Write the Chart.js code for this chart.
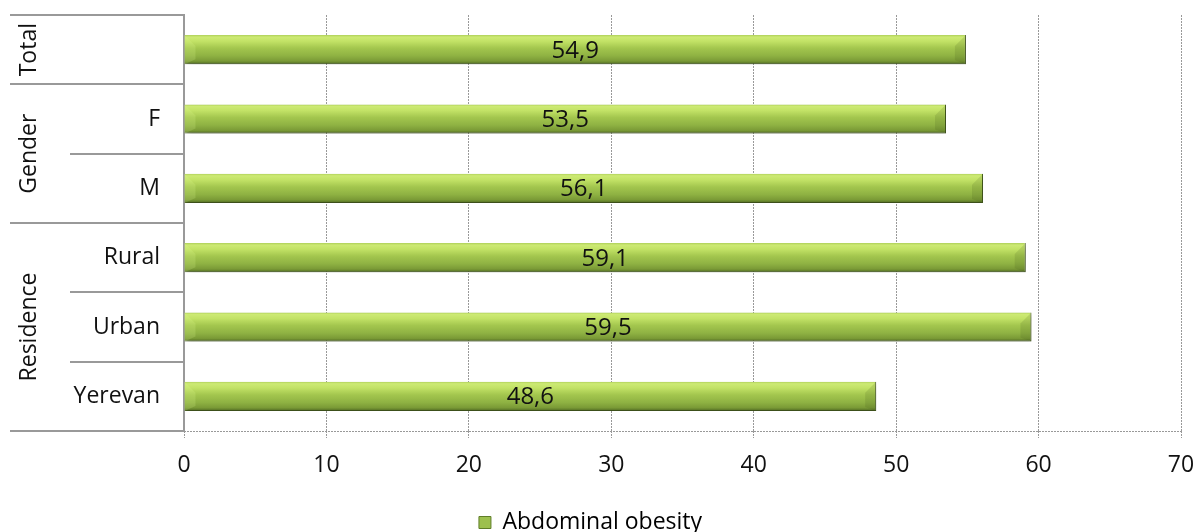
<!DOCTYPE html>
<html>
<head>
<meta charset="utf-8">
<script src="https://cdn.jsdelivr.net/npm/chart.js@4.4.1/dist/chart.umd.min.js"></script>
<style>
  html, body { margin: 0; padding: 0; background: #fff; }
</style>
</head>
<body>
<canvas id="myChart" width="1196" height="532"></canvas>
<script>
// data
const categories = ['Total', 'F', 'M', 'Rural', 'Urban', 'Yerevan'];
const tickLabels = ['', 'F', 'M', 'Rural', 'Urban', 'Yerevan'];
const values = [54.9, 53.5, 56.1, 59.1, 59.5, 48.6];
const groupNames = ['Total', 'Gender', 'Residence'];
const groupStart = [0, 1, 3];
const groupEnd = [0, 2, 5];
const seriesName = 'Abdominal obesity';
const xTicks = [0, 10, 20, 30, 40, 50, 60, 70];

const FONT = '"Open Sans", sans-serif';
const TEXT = '#111';
const LINE = '#999';

const barFill = (c) => {
  const chart = c.chart;
  const y = chart.scales && chart.scales.y;
  if (c.type !== 'data' || !y) return '#9bbb59';
  const cy = y.getPixelForValue(c.dataIndex);
  if (!isFinite(cy)) return '#9bbb59';
  const g = chart.ctx.createLinearGradient(0, cy - 15, 0, cy + 15);
  g.addColorStop(0, '#a9cb55');
  g.addColorStop(0.08, '#cdea74');
  g.addColorStop(0.22, '#c2e266');
  g.addColorStop(0.45, '#a3c64e');
  g.addColorStop(0.7, '#8fb243');
  g.addColorStop(0.88, '#7a9a36');
  g.addColorStop(1, '#4a6320');
  return g;
};

const zeroPad = (s) => { s.paddingTop = 0; s.paddingBottom = 0; s.paddingLeft = 0; s.paddingRight = 0; };

const extras = {
  id: 'extras',
  afterLayout(chart) {
    // push legend down to sit near the bottom edge
    chart.legend.top += 12;
    chart.legend.bottom += 12;
  },
  beforeDatasetsDraw(chart) {
    const ctx = chart.ctx;
    ctx.save();
    ctx.shadowColor = 'rgba(0,0,0,0.25)';
    ctx.shadowBlur = 5;
    ctx.shadowOffsetX = 2;
    ctx.shadowOffsetY = 3;
  },
  afterDatasetsDraw(chart) {
    const ctx = chart.ctx;
    ctx.restore();
    const meta = chart.getDatasetMeta(0);
    ctx.save();
    meta.data.forEach((bar, i) => {
      const top = bar.y - bar.height / 2, bot = bar.y + bar.height / 2;
      const b = 11;
      // left bevel (lighter)
      ctx.fillStyle = 'rgba(230,255,150,0.18)';
      ctx.beginPath();
      ctx.moveTo(bar.base, top); ctx.lineTo(bar.base + b, top + b);
      ctx.lineTo(bar.base + b, bot - 5); ctx.lineTo(bar.base, bot);
      ctx.closePath(); ctx.fill();
      // right bevel (darker)
      ctx.fillStyle = 'rgba(60,80,20,0.14)';
      ctx.beginPath();
      ctx.moveTo(bar.x, top); ctx.lineTo(bar.x - b, top + b);
      ctx.lineTo(bar.x - b, bot - 4); ctx.lineTo(bar.x, bot);
      ctx.closePath(); ctx.fill();
      // value label
      ctx.fillStyle = TEXT;
      ctx.font = '24px ' + FONT;
      ctx.textAlign = 'center';
      ctx.textBaseline = 'middle';
      ctx.fillText(values[i].toFixed(1).replace('.', ','), (bar.x + bar.base) / 2, bar.y + 1);
    });
    ctx.restore();
  },
  afterDraw(chart) {
    const {ctx, chartArea, scales: {y}} = chart;
    const half = (y.getPixelForValue(1) - y.getPixelForValue(0)) / 2;
    ctx.save();
    // dotted x axis line
    ctx.strokeStyle = LINE;
    ctx.lineWidth = 1;
    ctx.setLineDash([2, 1]);
    ctx.beginPath();
    ctx.moveTo(chartArea.left, chartArea.bottom + 0.5);
    ctx.lineTo(chartArea.right, chartArea.bottom + 0.5);
    ctx.stroke();
    ctx.setLineDash([]);
    // category separators
    ctx.lineWidth = 2;
    for (let i = 0; i <= categories.length; i++) {
      const py = Math.round(i < categories.length ? y.getPixelForValue(i) - half : y.getPixelForValue(i - 1) + half);
      const outer = groupStart.includes(i) || i === categories.length;
      ctx.beginPath();
      ctx.moveTo(outer ? 10 : 70, py);
      ctx.lineTo(chartArea.left, py);
      ctx.stroke();
    }
    // group labels
    ctx.fillStyle = TEXT;
    ctx.font = '23px ' + FONT;
    ctx.textAlign = 'center';
    ctx.textBaseline = 'middle';
    groupNames.forEach((name, g) => {
      const cy = (y.getPixelForValue(groupStart[g]) + y.getPixelForValue(groupEnd[g])) / 2;
      ctx.save();
      ctx.translate(29, cy);
      ctx.rotate(-Math.PI / 2);
      ctx.fillText(name, 0, 0);
      ctx.restore();
    });
    ctx.restore();
  }
};

new Chart(document.getElementById('myChart').getContext('2d'), {
  type: 'bar',
  data: {
    labels: categories,
    datasets: [{
      label: seriesName,
      data: values,
      backgroundColor: barFill,
      borderColor: '#4a6120',
      borderWidth: {top: 0, right: 1, bottom: 1, left: 0},
      borderSkipped: 'start',
      categoryPercentage: 1,
      barPercentage: 0.42
    }]
  },
  options: {
    indexAxis: 'y',
    responsive: false,
    animation: false,
    devicePixelRatio: 1,
    layout: { padding: { top: 15, right: 15, left: 0, bottom: 0 } },
    plugins: {
      tooltip: { enabled: false },
      legend: {
        position: 'bottom',
        labels: {
          color: TEXT,
          font: { family: FONT, size: 23 },
          boxWidth: 12,
          boxHeight: 12,
          padding: 0,
          generateLabels: (chart) => [{
            text: seriesName,
            fillStyle: '#9dc04e',
            strokeStyle: '#5f7d28',
            lineWidth: 1,
            datasetIndex: 0
          }]
        }
      }
    },
    scales: {
      x: {
        min: 0,
        max: 70,
        afterBuildTicks: (s) => { s.ticks = xTicks.map(v => ({value: v})); },
        ticks: { color: TEXT, font: { family: FONT, size: 23 }, padding: 14 },
        grid: { color: LINE, lineWidth: 1, tickLength: 7, tickColor: LINE, tickBorderDash: [2, 1] },
        border: { display: false, dash: [2, 1] },
        afterFit: (s) => { s.height = 68; zeroPad(s); }
      },
      y: {
        ticks: {
          color: TEXT,
          font: { family: FONT, size: 23 },
          padding: 24,
          callback: (v, i) => tickLabels[i]
        },
        grid: { display: false, drawTicks: false },
        border: { color: LINE, width: 2 },
        afterFit: (s) => { s.width = 184; zeroPad(s); }
      }
    }
  },
  plugins: [extras]
});
</script>
</body>
</html>
